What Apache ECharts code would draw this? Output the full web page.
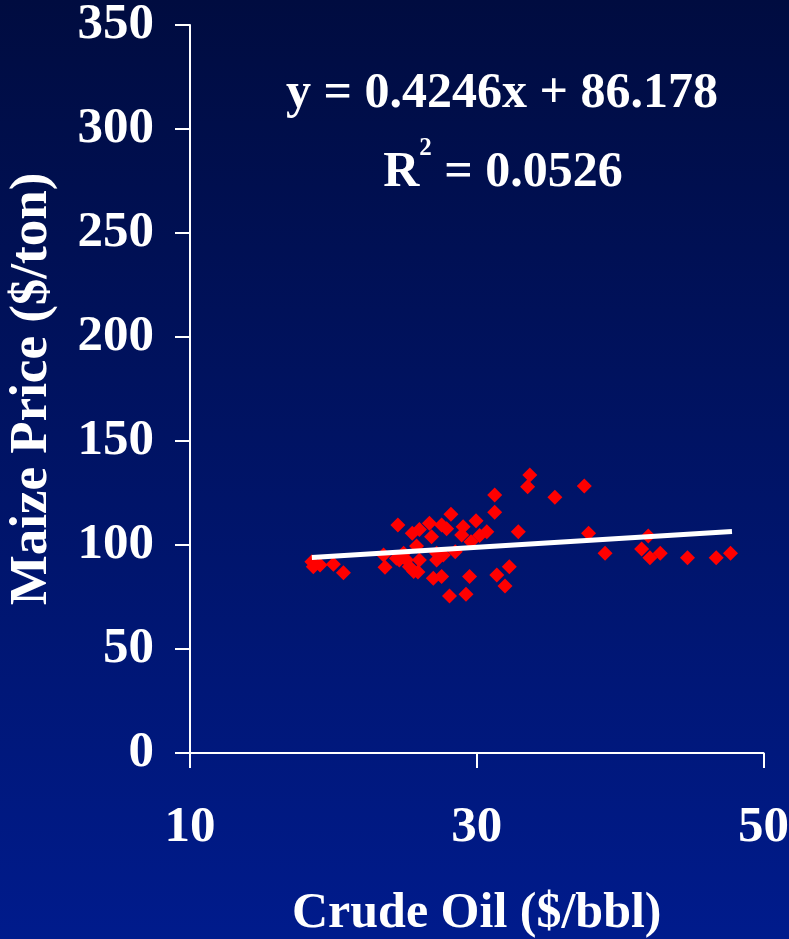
<!DOCTYPE html>
<html>
<head>
<meta charset="utf-8">
<script src="https://cdn.jsdelivr.net/npm/echarts@6/dist/echarts.min.js"></script>
<style>html,body{margin:0;padding:0;background:#000c40;}#c{width:789px;height:939px;}</style>
</head>
<body>
<div id="c"></div>
<script>
var crudeOil = [33.7,33.55,31.25,31.25,28.2,24.5,26.7,27.55,25.5,26.0,26.85,27.9,29.05,28.95,29.95,30.7,30.2,32.9,29.6,
  18.5,18.6,19.07,20.0,20.7,23.5,23.6,24.4,24.9,25.1,25.3,25.6,25.8,26.0,26.97,27.55,27.2,27.2,27.67,28.5,29.5,31.4,31.97,32.27,28.1,29.25,
  35.45,37.5,37.8,38.95,41.96,41.5,42.08,42.8,44.7,46.7,47.7,25.9,24.6];
var maizePrice = [133.7,128,124,115.7,114.8,109.6,110.4,109.6,105.6,107.5,104,107.8,108.8,104.8,111.6,106.4,104.6,106.4,101.6,
  92,89.5,90.4,90.8,86.6,95.2,89.3,93.6,96,92.8,89.6,87.2,99.5,92.8,84,84.8,92.8,96,95.2,96.8,84.8,85.6,80.3,89.6,75.5,76.3,
  122.9,128.4,105.6,96,104.3,98.1,93.9,96,93.9,93.9,96,87,92.8];
var trendX = [18.5, 47.8];
var trendY = [94.0, 106.5];
var xTicks = [10, 30, 50];
var yTicks = [0, 50, 100, 150, 200, 250, 300, 350];
var equationText = 'y = 0.4246x + 86.178';
var r2Value = '0.0526';
var xTitle = 'Crude Oil ($/bbl)';
var yTitle = 'Maize Price ($/ton)';

var FONT = "'Liberation Serif','Times New Roman',serif";
var pts = crudeOil.map(function(x, i){ return [x, maizePrice[i]]; });
var trend = trendX.map(function(x, i){ return [x, trendY[i]]; });

var chart = echarts.init(document.getElementById('c'));
chart.setOption({
  backgroundColor: {type:'linear', x:0, y:0, x2:0, y2:1,
    colorStops:[{offset:0, color:'#000c40'}, {offset:1, color:'#001b8c'}]},
  animation: false,
  grid: {left: 190, right: 25.5, top: 25, bottom: 186, containLabel: false, outerBoundsMode: 'none'},
  xAxis: {
    type: 'value', min: xTicks[0], max: xTicks[xTicks.length-1], interval: 20,
    axisLine: {lineStyle: {color: '#ffffff', width: 2}},
    axisTick: {show: true, inside: false, length: 15, lineStyle: {color: '#ffffff', width: 2}},
    splitLine: {show: false},
    axisLabel: {color: '#ffffff', fontFamily: FONT, fontWeight: 'bold', fontSize: 51, margin: 49},
    name: xTitle, nameLocation: 'middle', nameGap: 136,
    nameTextStyle: {color: '#ffffff', fontFamily: FONT, fontWeight: 'bold', fontSize: 50}
  },
  yAxis: {
    type: 'value', min: yTicks[0], max: yTicks[yTicks.length-1], interval: 50,
    axisLine: {show: true, lineStyle: {color: '#ffffff', width: 2}},
    axisTick: {show: true, inside: false, length: 15, lineStyle: {color: '#ffffff', width: 2}},
    splitLine: {show: false},
    axisLabel: {color: '#ffffff', fontFamily: FONT, fontWeight: 'bold', fontSize: 51, margin: 36, padding: [6, 0, 0, 0]},
    name: yTitle, nameLocation: 'middle', nameGap: 131, nameRotate: 90,
    nameTextStyle: {color: '#ffffff', fontFamily: FONT, fontWeight: 'bold', fontSize: 53}
  },
  title: [{
    text: equationText, left: 497, top: 64, textAlign: 'center',
    textStyle: {color: '#ffffff', fontFamily: FONT, fontWeight: 'bold', fontSize: 50}
  }, {
    text: '{r|R}{s|2}{r| = ' + r2Value + '}', left: 498, top: 131, textAlign: 'center',
    textStyle: {
      color: '#ffffff', fontFamily: FONT, fontWeight: 'bold', fontSize: 50,
      rich: {
        r: {color: '#ffffff', fontFamily: FONT, fontWeight: 'bold', fontSize: 50, lineHeight: 74},
        s: {color: '#ffffff', fontFamily: FONT, fontWeight: 'bold', fontSize: 25, verticalAlign: 'top', lineHeight: 38}
      }
    }
  }],
  series: [{
    type: 'scatter', data: pts, symbol: 'diamond', symbolSize: 15,
    itemStyle: {color: '#ff0000', opacity: 1}, z: 3
  }, {
    type: 'line', data: trend, symbol: 'none', showSymbol: false,
    lineStyle: {color: '#ffffff', width: 5}, z: 4
  }]
});
</script>
</body>
</html>
